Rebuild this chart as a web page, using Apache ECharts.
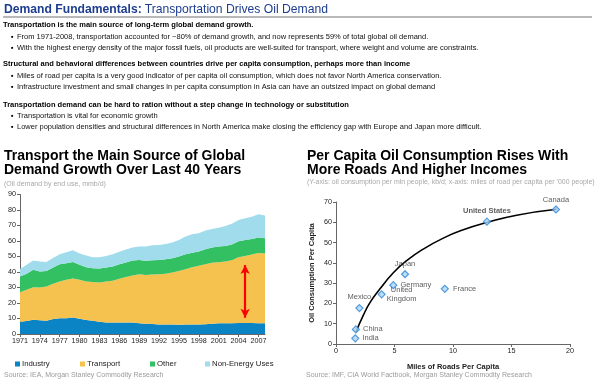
<!DOCTYPE html>
<html><head><meta charset="utf-8">
<script src="https://cdn.jsdelivr.net/npm/echarts@6/dist/echarts.min.js"></script>
<style>html,body{margin:0;padding:0;background:#fff}#c{width:600px;height:384px}</style>
</head><body><div id="c"></div>
<script>
// ---------- data ----------
const years = ['1971','1972','1973','1974','1975','1976','1977','1978','1979','1980','1981','1982','1983','1984','1985','1986','1987','1988','1989','1990','1991','1992','1993','1994','1995','1996','1997','1998','1999','2000','2001','2002','2003','2004','2005','2006','2007','2008'];
const industry  = [7.9,8.4,9.2,8.8,8.6,9.7,10.1,10.1,10.7,9.9,9.0,8.6,7.9,7.5,7.5,7.5,7.5,7.5,6.9,6.6,6.4,6.2,6.2,6.2,6.0,6.2,6.2,6.2,6.3,6.6,6.9,7.0,6.9,7.1,7.1,7.1,7.0,6.9];
const transport = [19.1,20.1,21.0,21.2,22.1,22.7,23.8,24.9,25.1,25.1,24.9,24.9,25.3,26.4,26.8,28.1,29.2,30.2,31.7,31.4,32.0,32.4,32.6,33.5,34.7,35.6,36.9,37.8,38.7,39.3,39.4,39.8,40.7,42.4,43.3,44.2,45.3,45.0];
const other     = [10.1,10.3,11.2,10.3,10.0,10.5,11.1,10.7,10.7,9.6,9.2,9.0,9.0,9.0,9.2,9.4,9.4,9.7,9.2,9.2,9.2,9.2,9.5,9.2,9.3,9.7,9.4,9.2,9.7,9.9,10.1,10.0,10.1,10.3,10.3,10.0,9.9,9.9];
const nonEnergy = [4.9,5.8,6.0,6.5,5.8,6.1,6.5,7.1,7.5,7.4,7.5,7.0,7.3,7.5,8.0,8.0,8.4,8.4,8.6,9.2,9.7,9.7,9.7,10.1,10.7,11.4,11.8,11.8,12.0,12.0,12.2,12.9,13.5,13.8,13.9,14.4,15.0,14.6];
const arrowYear = '2005';
const arrowRange = [10.5, 44.5];

const countries    = ['Canada','United States','Japan','Germany','United Kingdom','France','Mexico','China','India'];
const roadMiles    = [18.8,12.9,5.9,4.9,3.9,9.3,2.0,1.7,1.65];
const oilPerCapita = [66.3,60.3,34.4,29.0,24.5,27.2,17.7,7.2,2.8];
const trendX = [1.71,2.34,2.9,3.76,4.9,6.04,7.46,9.17,10.88,12.88,15.44,18.86];
const trendY = [6.0,14.2,20.4,27.2,35.1,41.1,46.8,52.2,56.3,59.9,63.5,66.4];

// ---------- styles ----------
const FF = '"Liberation Sans", Arial, sans-serif';
const C = {industry:'#0a84c4', transport:'#f5c24f', other:'#33c063', nonEnergy:'#a0dcec'};
const labelPlace = {
  'Canada':        {position:'top', distance:1},
  'United States': {position:'top', distance:3, fontWeight:'bold'},
  'Japan':         {position:'top', distance:2},
  'Germany':       {position:'right', distance:3},
  'United Kingdom':{position:'inside', offset:[20,0], formatter:'United\nKingdom', lineHeight:9},
  'France':        {position:'right', distance:4},
  'Mexico':        {position:'top', distance:3},
  'China':         {position:'right', distance:3},
  'India':         {position:'right', distance:3}
};

const chart = echarts.init(document.getElementById('c'), null, {renderer:'canvas'});

const txt = (x, y, text, font, fill) => ({type:'text', x, y, silent:true,
  style:{text, font, fill, verticalAlign:'middle'}});

const bodyB = 'bold 7.5px ' + FF, bodyR = '7.5px ' + FF;
const graphics = [
  {type:'text', x:4, y:9, scaleX:0.9, style:{text:'{b|Demand Fundamentals:} {r|Transportation Drives Oil Demand}', verticalAlign:'middle',
    rich:{b:{font:'bold 13.5px '+FF, fill:'#1d3d8f'}, r:{font:'13.5px '+FF, fill:'#1d3d8f'}}}},
  {type:'line', shape:{x1:3,y1:17,x2:592,y2:17}, style:{stroke:'#a0a0a0', lineWidth:1.5}},
  txt(3, 25, 'Transportation is the main source of long-term global demand growth.', bodyB, '#000'),
  txt(11, 37, '▪', bodyR, '#000'),
  txt(17, 37, 'From 1971-2008, transportation accounted for ~80% of demand growth, and now represents 59% of total global oil demand.', bodyR, '#111'),
  txt(11, 48.3, '▪', bodyR, '#000'),
  txt(17, 48.3, 'With the highest energy density of the major fossil fuels, oil products are well-suited for transport, where weight and volume are constraints.', bodyR, '#111'),
  txt(3, 64.3, 'Structural and behavioral differences between countries drive per capita consumption, perhaps more than income', bodyB, '#000'),
  txt(11, 75.7, '▪', bodyR, '#000'),
  txt(17, 75.7, 'Miles of road per capita is a very good indicator of per capita oil consumption, which does not favor North America conservation.', bodyR, '#111'),
  txt(11, 87, '▪', bodyR, '#000'),
  txt(17, 87, 'Infrastructure investment and small changes in per capita consumption in Asia can have an outsized impact on global demand', bodyR, '#111'),
  txt(3, 105, 'Transportation demand can be hard to ration without a step change in technology or substitution', bodyB, '#000'),
  txt(11, 115.7, '▪', bodyR, '#000'),
  txt(17, 115.7, 'Transportation is vital for economic growth', bodyR, '#111'),
  txt(11, 127, '▪', bodyR, '#000'),
  txt(17, 127, 'Lower population densities and structural differences in North America make closing the efficiency gap with Europe and Japan more difficult.', bodyR, '#111'),
  txt(4, 156.5, 'Transport the Main Source of Global', 'bold 14px '+FF, '#000'),
  txt(4, 170, 'Demand Growth Over Last 40 Years', 'bold 14px '+FF, '#000'),
  txt(4, 184, '(Oil demand by end use, mmb/d)', '7px '+FF, '#a8a8a8'),
  txt(307, 156.5, 'Per Capita Oil Consumption Rises With', 'bold 14px '+FF, '#000'),
  txt(307, 170, 'More Roads And Higher Incomes', 'bold 14px '+FF, '#000'),
  txt(307, 182.5, "(Y-axis: oil consumption per mln people, kb/d; x-axis: miles of road per capita per '000 people)", '6.95px '+FF, '#a8a8a8'),
  txt(4, 375, 'Source: IEA, Morgan Stanley Commodity Research', '7px '+FF, '#9a9a9a'),
  txt(306, 375, 'Source: IMF, CIA World Factbook, Morgan Stanley Commodity Research', '7px '+FF, '#9a9a9a')
];

const axisLine = {show:true, lineStyle:{color:'#666', width:1}};
const axisTick = {show:true, inside:false, length:3, lineStyle:{color:'#666'}};
const axLab = {color:'#222', fontSize:7.2, fontFamily:FF};

const areaSeries = (name, data, color) => ({
  name, type:'line', stack:'total', data, xAxisIndex:0, yAxisIndex:0,
  symbol:'none', lineStyle:{width:0}, areaStyle:{color, opacity:1}, itemStyle:{color},
  emphasis:{disabled:true}
});

const legendItem = (name, left) => ({
  data:[name], left, top:355, itemWidth:5, itemHeight:5, itemGap:0,
  icon:'rect', textStyle:{fontSize:7.8, fontFamily:FF, color:'#222', padding:[0,0,0,-3]},
  selectedMode:false
});

const scatterData = countries.map((n,i) => {
  const p = labelPlace[n];
  return {name:n, value:[roadMiles[i], oilPerCapita[i]],
    label:Object.assign({show:true, formatter:'{b}', color:'#333', fontSize:7.5, fontFamily:FF}, p)};
});

chart.setOption({
  animation:false,
  graphic:graphics,
  legend:[legendItem('Industry',10), legendItem('Transport',75), legendItem('Other',145), legendItem('Non-Energy Uses',200)],
  grid:[
    {left:20, top:194.5, width:245, bottom:50, containLabel:false},
    {left:336, top:202, right:30, bottom:40, containLabel:false}
  ],
  xAxis:[
    {type:'category', gridIndex:0, data:years, boundaryGap:false,
     axisLine, axisTick:Object.assign({}, axisTick, {interval:2}),
     axisLabel:Object.assign({}, axLab, {interval:2, margin:4}), splitLine:{show:false}},
    {type:'value', gridIndex:1, min:0, max:20, interval:5,
     axisLine, axisTick, axisLabel:Object.assign({}, axLab, {margin:4}), splitLine:{show:false},
     name:'Miles of Roads Per Capita', nameLocation:'middle', nameGap:19,
     nameTextStyle:{fontSize:7.5, fontWeight:'bold', fontFamily:FF, color:'#222'}}
  ],
  yAxis:[
    {type:'value', gridIndex:0, min:0, max:90, interval:10,
     axisLine, axisTick, axisLabel:Object.assign({}, axLab, {margin:4}), splitLine:{show:false}},
    {type:'value', gridIndex:1, min:0, max:70, interval:10,
     axisLine, axisTick, axisLabel:Object.assign({}, axLab, {margin:4}), splitLine:{show:false},
     name:'Oil Consumption Per Capita', nameLocation:'middle', nameGap:20,
     nameTextStyle:{fontSize:7.5, fontWeight:'bold', fontFamily:FF, color:'#222'}}
  ],
  series:[
    areaSeries('Industry', industry, C.industry),
    areaSeries('Transport', transport, C.transport),
    areaSeries('Other', other, C.other),
    areaSeries('Non-Energy Uses', nonEnergy, C.nonEnergy),
    {type:'line', name:'arrow', xAxisIndex:0, yAxisIndex:0, data:[], symbol:'none',
     markLine:{silent:true, symbol:['arrow','arrow'], symbolSize:[7,9], label:{show:false},
       lineStyle:{color:'#ff0000', width:2.2, type:'solid'},
       data:[[{coord:[arrowYear, arrowRange[0]]},{coord:[arrowYear, arrowRange[1]]}]]}},
    {type:'line', name:'trend', xAxisIndex:1, yAxisIndex:1, smooth:true, symbol:'none',
     data:trendX.map((x,i)=>[x, trendY[i]]), lineStyle:{color:'#000', width:1.6}, z:1},
    {type:'scatter', name:'countries', xAxisIndex:1, yAxisIndex:1, symbol:'diamond', symbolSize:7,
     itemStyle:{color:'#a9d6f5', borderColor:'#2f86d6', borderWidth:1.2}, data:scatterData, z:3}
  ]
});
</script></body></html>
